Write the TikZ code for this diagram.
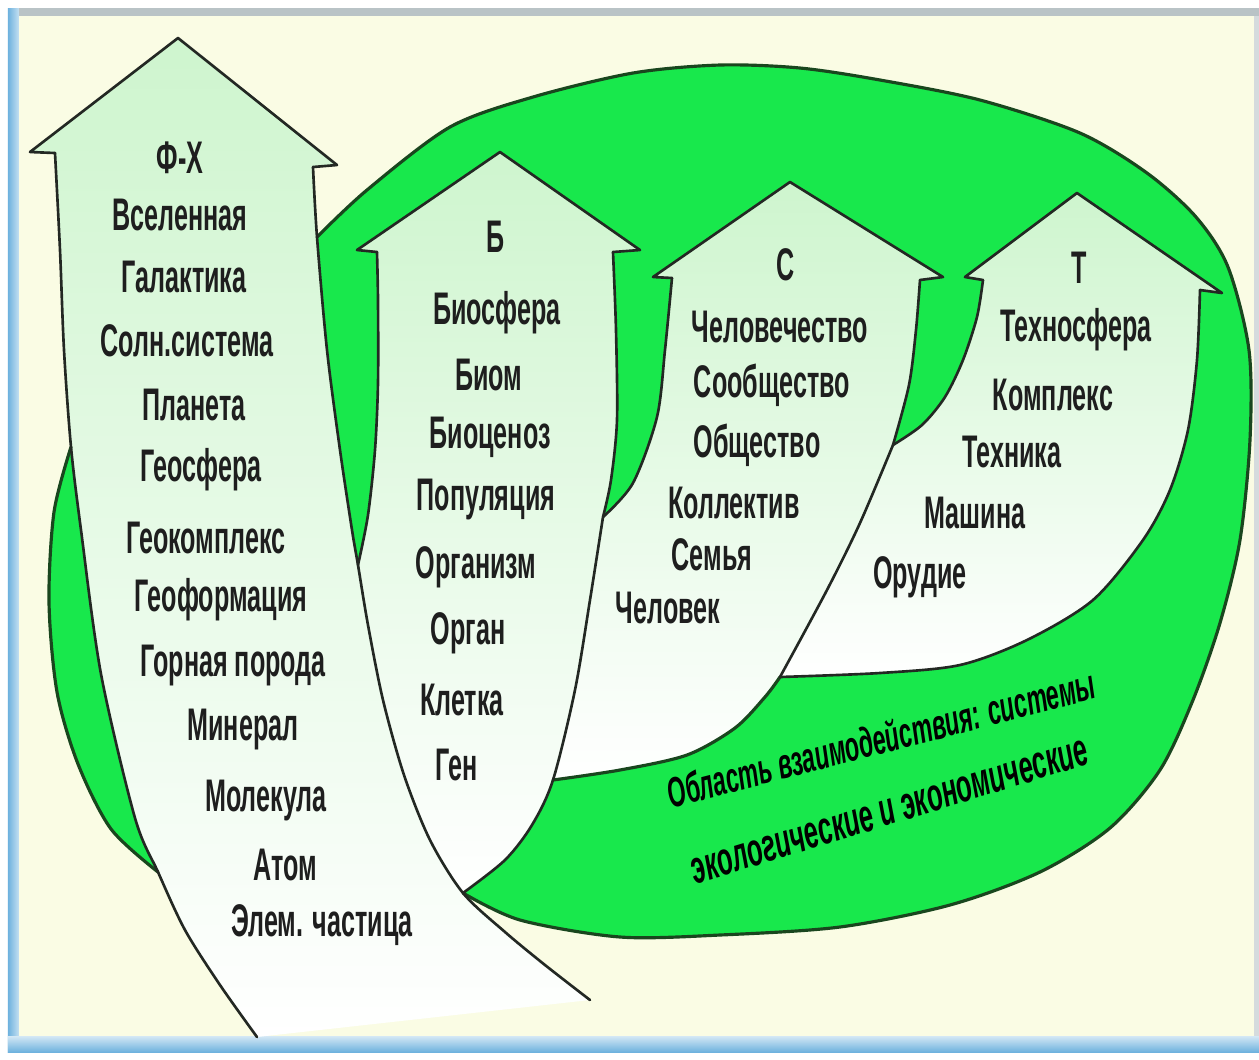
\documentclass[tikz,border=0pt]{standalone}
\usepackage{fontspec}
\newfontfamily\lblfont{Liberation Sans}[FakeStretch=0.55]
\definecolor{ringgreen}{RGB}{24,232,76}
\definecolor{ringedge}{RGB}{25,70,30}
\definecolor{edgecol}{RGB}{35,40,35}
\definecolor{arrowtop}{RGB}{206,245,206}
\definecolor{cream}{RGB}{250,252,228}
\definecolor{framegray}{RGB}{185,195,198}
\definecolor{frameblue}{RGB}{110,178,222}
\definecolor{txt}{RGB}{30,30,30}
\tikzset{
  arrowfill/.style={top color=arrowtop, bottom color=white, draw=none},
  edgeline/.style={draw=edgecol, line width=0.75pt, line join=round, line cap=round},
  ringline/.style={draw=ringedge, line width=0.9pt, line join=round, line cap=round},
  lbl/.style={font=\lblfont\bfseries\fontsize{13}{15}\selectfont, text=txt, inner sep=0pt},
  ringlbl/.style={font={\lblfont\bfseries\itshape\fontsize{#1}{15}\selectfont}, text=black, inner sep=0pt}
}
\begin{document}
\begin{tikzpicture}[x=0.01cm, y=-0.01cm]
\useasboundingbox (0,0) rectangle (1259,1059);
% frame
\fill[white] (0,0) rectangle (1259,1059);
\fill[cream] (18,16) rectangle (1254,1040);
\fill[framegray] (8,8) rectangle (1259,16);
\fill[left color=frameblue, right color=frameblue!40] (8,8) rectangle (19,1052);
\fill[top color=frameblue!30, bottom color=frameblue] (8,1036) rectangle (1259,1052);
\fill[framegray!60] (1254,16) rectangle (1259,1036);

% green blob (hidden parts lie under the arrows)
\fill[ringgreen] plot[smooth] coordinates {(463,893) (520,920) (620,937) (720,935) (840,927) (950,905) (1040,872) (1110,828) (1160,770) (1193,700) (1220,623) (1240,540) (1250,440) (1249,350) (1228,267) (1196,217) (1147,173) (1080,133) (980,100) (880,80) (800,68) (720,65) (633,73) (533,97) (450,127) (367,190) (317,237) (300,255)}
  -- (295,870) -- (455,890) -- cycle;
% left green sliver
\fill[ringgreen] plot[smooth] coordinates {(71,447) (54,512) (49,602) (57,692) (78,764) (111,829) (158,872)}
  -- plot[smooth] coordinates {(158,872) (135,818) (101,674) (81,530) (71,447)} -- cycle;

% arrow fills
\path[arrowfill] (178,38) -- (337,165) -- (313,167)
  -- plot[smooth] coordinates {(313,167) (317,237) (327,350) (340,450) (352,530) (358,565) (368,625) (383,700) (404,775) (430,840) (463,893) (505,932) (545,965) (590,1000)}
  -- plot[smooth] coordinates {(257,1037) (220,985) (185,930) (158,872) (135,818) (101,674) (81,530) (71,447) (64,350) (60,250) (55,153)}
  -- (30,152) -- cycle;
\path[arrowfill] (500,152) -- (640,250) -- (613,252)
  -- plot[smooth] coordinates {(613,252) (616,330) (617,420) (611,480) (603,517)}
  -- plot[smooth] coordinates {(603,517) (590,600) (575,690) (553,780) (532,825) (505,860) (463,893)}
  -- plot[smooth] coordinates {(463,893) (430,840) (404,775) (383,700) (368,625) (358,565)}
  -- plot[smooth] coordinates {(358,565) (368,515) (375,450) (378,383) (378,300) (377,252)}
  -- (357,250) -- cycle;
\path[arrowfill] (790,182) -- (943,277) -- (920,280)
  -- plot[smooth] coordinates {(920,280) (916,330) (909,385) (893,445)}
  -- plot[smooth] coordinates {(893,445) (860,523) (827,590) (780,677)}
  -- plot[smooth] coordinates {(780,677) (765,697) (735,728) (687,755) (620,770) (553,780)}
  -- plot[smooth] coordinates {(553,780) (575,690) (590,600) (603,517)}
  -- plot[smooth] coordinates {(603,517) (633,483) (657,417) (665,350) (672,278)}
  -- (653,277) -- cycle;
\path[arrowfill] (1077,193) -- (1222,293) -- (1200,290)
  -- plot[smooth] coordinates {(1200,290) (1197,360) (1188,430) (1170,490) (1143,540) (1093,600) (1027,640) (960,665) (880,673) (780,677)}
  -- plot[smooth] coordinates {(780,677) (827,590) (860,523) (893,445)}
  -- plot[smooth] coordinates {(893,445) (922,425) (945,397) (963,360) (977,317) (983,280)}
  -- (965,277) -- cycle;

% green outlines
\draw[ringline] plot[smooth] coordinates {(463,893) (520,920) (620,937) (720,935) (840,927) (950,905) (1040,872) (1110,828) (1160,770) (1193,700) (1220,623) (1240,540) (1250,440) (1249,350) (1228,267) (1196,217) (1147,173) (1080,133) (980,100) (880,80) (800,68) (720,65) (633,73) (533,97) (450,127) (367,190) (317,237)};
\draw[ringline] plot[smooth] coordinates {(71,447) (54,512) (49,602) (57,692) (78,764) (111,829) (158,872)};
\draw[ringline] plot[smooth] coordinates {(553,780) (620,770) (687,755) (735,728) (765,697) (780,677)};

% arrow edges
\draw[edgeline] (55,153) -- (30,152) -- (178,38) -- (337,165) -- (313,167);
\draw[edgeline] plot[smooth] coordinates {(55,153) (60,250) (64,350) (71,447) (81,530) (101,674) (135,818) (158,872) (185,930) (220,985) (257,1037)};
\draw[edgeline] plot[smooth] coordinates {(313,167) (317,237) (327,350) (340,450) (352,530) (358,565) (368,625) (383,700) (404,775) (430,840) (463,893) (505,932) (545,965) (590,1000)};
\draw[edgeline] (377,252) -- (357,250) -- (500,152) -- (640,250) -- (613,252);
\draw[edgeline] plot[smooth] coordinates {(377,252) (378,300) (378,383) (375,450) (368,515) (358,565)};
\draw[edgeline] plot[smooth] coordinates {(613,252) (616,330) (617,420) (611,480) (603,517)};
\draw[edgeline] plot[smooth] coordinates {(603,517) (590,600) (575,690) (553,780) (532,825) (505,860) (463,893)};
\draw[edgeline] (672,278) -- (653,277) -- (790,182) -- (943,277) -- (920,280);
\draw[edgeline] plot[smooth] coordinates {(672,278) (665,350) (657,417) (633,483) (603,517)};
\draw[edgeline] plot[smooth] coordinates {(920,280) (916,330) (909,385) (893,445)};
\draw[edgeline] plot[smooth] coordinates {(893,445) (860,523) (827,590) (780,677)};
\draw[edgeline] (983,280) -- (965,277) -- (1077,193) -- (1222,293) -- (1200,290);
\draw[edgeline] plot[smooth] coordinates {(983,280) (977,317) (963,360) (945,397) (922,425) (893,445)};
\draw[edgeline] plot[smooth] coordinates {(1200,290) (1197,360) (1188,430) (1170,490) (1143,540) (1093,600) (1027,640) (960,665) (880,673) (780,677)};

% texts: Ф-Х
\node[lbl] (fx0) at (180,158) {Ф-Х};
\node[lbl] (fx1) at (180,215) {Вселенная};
\node[lbl] (fx2) at (184,277) {Галактика};
\node[lbl] (fx3) at (187,341) {Солн.система};
\node[lbl] (fx4) at (194,405) {Планета};
\node[lbl] (fx5) at (201,470) {Геосфера};
\node[lbl] (fx6) at (206,538) {Геокомплекс};
\node[lbl] (fx7) at (221,600) {Геоформация};
\node[lbl] (fx8) at (233,665) {Горная порода};
\node[lbl] (fx9) at (243,730) {Минерал};
\node[lbl] (fx10) at (266,800) {Молекула};
\node[lbl] (fx11) at (285,865) {Атом};
\node[lbl] (fx12) at (322,925) {Элем. частица};
% Б
\node[lbl] (b0) at (496,237) {Б};
\node[lbl] (b1) at (497,313) {Биосфера};
\node[lbl] (b2) at (489,375) {Биом};
\node[lbl] (b3) at (490,437) {Биоценоз};
\node[lbl] (b4) at (486,500) {Популяция};
\node[lbl] (b5) at (476,567) {Организм};
\node[lbl] (b6) at (468,633) {Орган};
\node[lbl] (b7) at (462,700) {Клетка};
\node[lbl] (b8) at (457,765) {Ген};
% С
\node[lbl] (c0) at (786,265) {С};
\node[lbl] (c1) at (780,327) {Человечество};
\node[lbl] (c2) at (772,385) {Сообщество};
\node[lbl] (c3) at (757,445) {Общество};
\node[lbl] (c4) at (734,503) {Коллектив};
\node[lbl] (c5) at (712,555) {Семья};
\node[lbl] (c6) at (668,608) {Человек};
% Т
\node[lbl] (t0) at (1079,268) {Т};
\node[lbl] (t1) at (1076,330) {Техносфера};
\node[lbl] (t2) at (1053,395) {Комплекс};
\node[lbl] (t3) at (1012,452) {Техника};
\node[lbl] (t4) at (975,513) {Машина};
\node[lbl] (t5) at (920,577) {Орудие};
% ring text
\node[ringlbl=12, rotate=14.5] (r1) at (881,738) {Область взаимодействия: системы};
\node[ringlbl=13.2, rotate=17] (r2) at (890,812) {экологические и экономические};
\end{tikzpicture}
\end{document}
